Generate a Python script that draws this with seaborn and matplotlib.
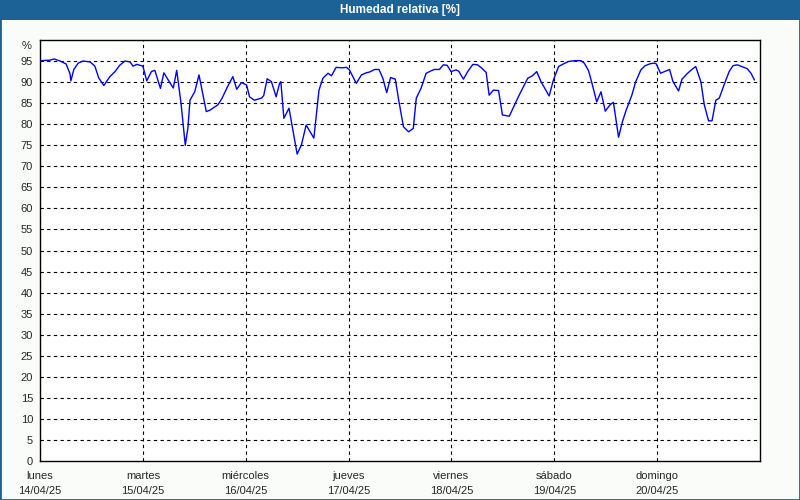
import matplotlib
matplotlib.use("Agg")
import matplotlib.pyplot as plt
import matplotlib.transforms as mtransforms
from matplotlib.patches import Rectangle
import seaborn as sns
import pandas as pd

# Horas desde lunes 00:00 y humedad relativa (%)
horas = [
    0.0, 2.3, 3.3, 4.7, 6.1, 7.0, 7.2, 7.9, 8.9, 10.0, 11.7, 12.8, 13.7, 14.9,
    16.3, 17.5, 18.6, 19.8, 21.0, 21.7, 22.6, 24.0,
    24.9, 26.0, 26.8, 28.1, 28.9, 30.1, 31.1, 31.9, 32.9, 33.9, 34.5, 35.0,
    36.1, 37.1, 38.8, 39.6, 41.5, 42.4, 43.8, 45.0, 45.9, 47.0, 48.2,
    48.9, 50.0, 51.7, 52.2, 53.0, 54.0, 55.1, 55.9, 56.2, 56.9, 58.1, 60.0,
    61.0, 62.1, 63.9, 65.1, 66.0, 67.2, 68.0, 69.1, 70.5, 71.5, 72.2,
    73.8, 75.0, 76.1, 76.9, 78.1, 79.1, 80.0, 80.9, 81.8, 82.9, 83.7, 84.8,
    86.0, 87.1, 87.8, 88.9, 90.1, 91.3, 92.0, 93.2, 94.1, 95.0, 95.9,
    97.1, 97.7, 98.8, 99.8, 101.0, 102.1, 103.1, 104.1, 104.8, 105.8, 107.0,
    107.9, 109.5, 110.7, 111.8, 113.8, 114.9, 115.9, 116.9, 118.8, 119.8,
    121.0, 121.9, 123.3, 124.9, 126.2, 127.0, 128.0, 128.8, 129.9, 130.9,
    131.9, 133.0, 133.8, 135.0, 135.9, 136.8, 138.1, 139.0, 140.2, 141.2,
    142.5, 143.5,
    143.8, 144.8, 146.0, 146.9, 147.7, 149.0, 149.8, 151.1, 152.1, 153.0,
    154.2, 155.0, 156.0, 156.8, 157.7, 158.5, 159.6, 160.8, 161.7, 162.7,
    163.7, 165.0, 165.9, 166.7,
]
humedad = [
    95.1, 95.2, 95.5, 95.0, 94.3, 92.0, 90.3, 93.0, 94.5, 95.0, 94.8, 93.8, 91.0, 89.2,
    91.3, 92.5, 94.0, 95.0, 94.8, 93.8, 94.2, 93.8,
    90.3, 92.5, 92.8, 88.5, 92.2, 90.2, 88.6, 92.8, 85.0, 75.0, 79.0, 85.7,
    87.7, 91.7, 83.0, 83.3, 84.6, 86.0, 89.0, 91.3, 88.3, 89.9, 89.3,
    86.5, 85.7, 86.2, 86.8, 90.8, 90.1, 86.5, 89.7, 90.1, 81.4, 83.8, 72.9,
    75.1, 79.8, 76.7, 88.1, 90.9, 92.1, 91.5, 93.5, 93.4, 93.5, 92.9,
    89.7, 91.7, 92.2, 92.4, 93.0, 93.0, 90.9, 87.5, 91.1, 90.7, 85.7, 79.4,
    78.2, 79.0, 86.2, 88.5, 92.1, 92.7, 93.0, 93.0, 94.1, 94.0, 92.5,
    92.9, 92.6, 90.7, 92.5, 94.2, 94.1, 93.3, 92.3, 86.9, 88.1, 88.0,
    82.2, 81.9, 84.5, 86.9, 90.9, 91.5, 92.5, 90.1, 86.7, 90.5,
    93.7, 94.2, 94.9, 95.1, 95.1, 94.5, 92.7, 89.7, 85.3, 87.7,
    83.1, 84.6, 85.2, 76.9, 80.6, 83.4, 86.9, 90.1, 92.9, 93.9,
    94.4, 94.5,
    94.3, 92.1, 92.6, 93.0, 90.1, 87.9, 90.7, 92.1, 93.0, 93.7,
    90.1, 84.6, 80.8, 80.8, 85.7, 86.2, 89.3, 92.5, 93.9, 94.1,
    93.7, 93.2, 92.1, 90.5,
]
dias = ["lunes", "martes", "miércoles", "jueves", "viernes", "sábado", "domingo"]
fechas = ["14/04/25", "15/04/25", "16/04/25", "17/04/25", "18/04/25", "19/04/25", "20/04/25"]
yticks = list(range(0, 100, 5))

df = pd.DataFrame({"dia": [h / 24 for h in horas], "hr": humedad})

sns.set_style("white")
plt.rcParams["font.family"] = ["Liberation Sans", "DejaVu Sans"]

fig = plt.figure(figsize=(8, 5), dpi=100)
fig.patch.set_facecolor("#fafcfa")

# marco y barra de titulo
fig.patches.append(Rectangle((0, 0), 1, 1, transform=fig.transFigure,
                             facecolor="none", edgecolor="#1d6296", linewidth=2))
fig.patches.append(Rectangle((0, 0.96), 1, 0.04, transform=fig.transFigure,
                             facecolor="#1d6296", edgecolor="none"))
fig.text(0.5, 0.98, "Humedad relativa [%]", color="white", fontsize=8.5,
         fontweight="bold", ha="center", va="center")

ax = fig.add_axes([0.05, 0.078, 0.9, 0.842])
ax.set_facecolor("white")

sns.lineplot(data=df, x="dia", y="hr", ax=ax, color="#0000ff", linewidth=1)

ax.set_xlim(0, 7)
ax.set_ylim(0, 100)
ax.set_yticks(yticks)
ax.set_xticks(range(7))
ax.set_xticklabels([f"{d}\n{f}" for d, f in zip(dias, fechas)], fontsize=8,
                   linespacing=1.6)
ax.tick_params(axis="y", labelsize=8, length=3, width=1, color="black", pad=2)
ax.tick_params(axis="x", length=3, width=1, color="black", pad=4)
ax.set_xlabel("")
ax.set_ylabel("")

for y in yticks[1:]:
    ax.axhline(y, color="black", linewidth=0.8, linestyle=(0, (3, 3)), zorder=0)
for x in range(1, 7):
    ax.axvline(x, color="black", linewidth=0.8, linestyle=(0, (3, 3)), zorder=0)

for s in ax.spines.values():
    s.set_color("black")
    s.set_linewidth(1)

trans = mtransforms.blended_transform_factory(ax.transAxes, ax.transData)
ax.text(-0.012, 98.5, "%", transform=trans, ha="right", va="center", fontsize=8)

fig.savefig("out.png", dpi=100, facecolor=fig.get_facecolor())
